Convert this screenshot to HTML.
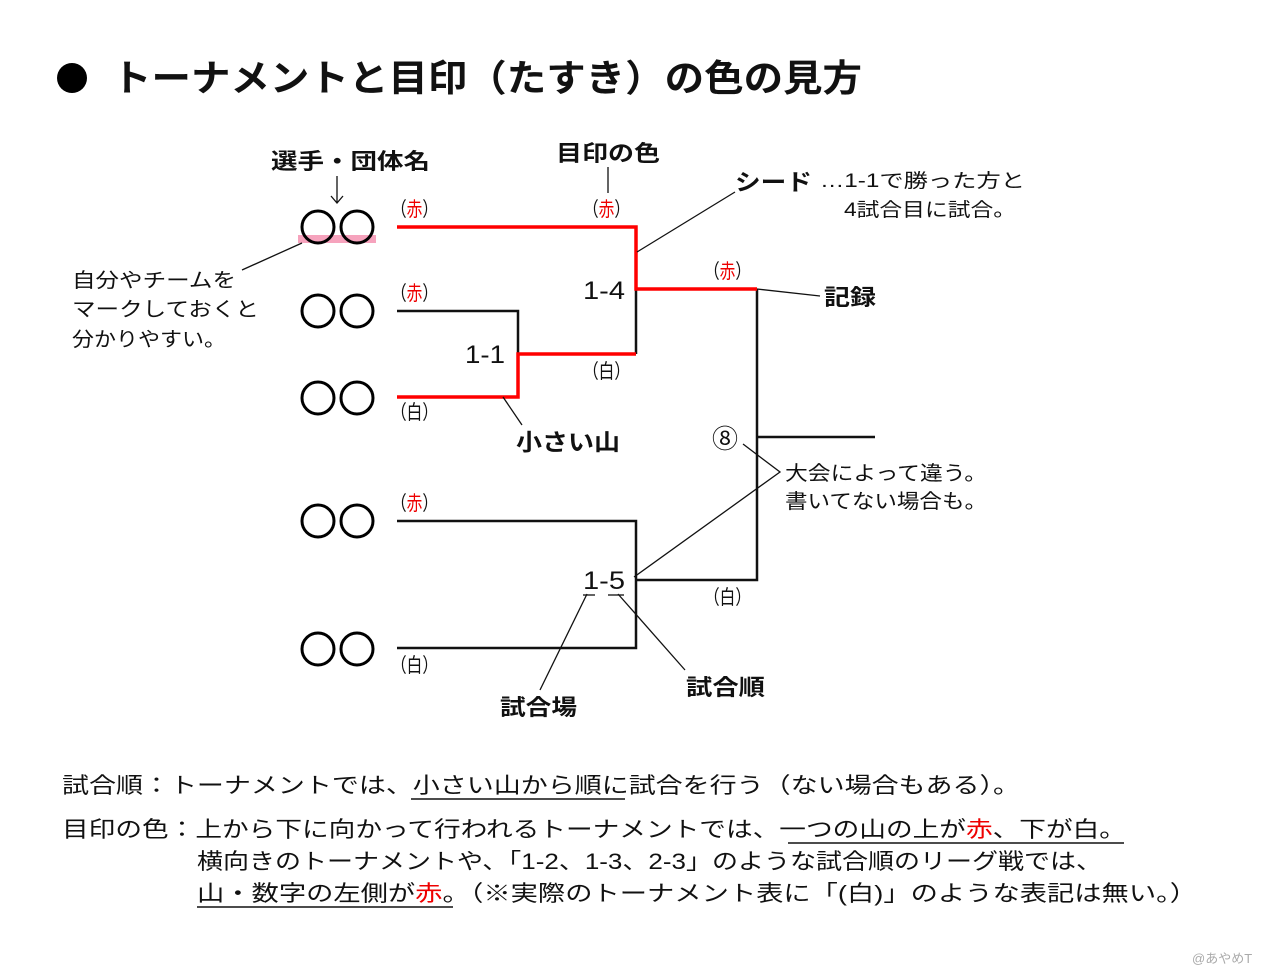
<!DOCTYPE html>
<html><head><meta charset="utf-8"><style>
html,body{margin:0;padding:0;background:#fff;}
svg{display:block;}
text{font-family:"Liberation Sans","Noto Sans CJK JP",sans-serif;fill:#111;}
.b{font-weight:bold;}
.r{fill:#e00;}
</style></head><body>
<svg width="1280" height="967" viewBox="0 0 1280 967">
<circle cx="72" cy="78" r="15" fill="#000"/>
<text x="112" y="91" font-size="37" class="b" textLength="750" lengthAdjust="spacingAndGlyphs">トーナメントと目印（たすき）の色の見方</text>

<rect x="298" y="235" width="78" height="8" fill="#f6a3bd"/>
<g fill="none" stroke="#000" stroke-width="3">
<circle cx="318" cy="227" r="16"/><circle cx="357" cy="227" r="16"/>
<circle cx="318" cy="311" r="16"/><circle cx="357" cy="311" r="16"/>
<circle cx="318" cy="398" r="16"/><circle cx="357" cy="398" r="16"/>
<circle cx="318" cy="521" r="16"/><circle cx="357" cy="521" r="16"/>
<circle cx="318" cy="649" r="16"/><circle cx="357" cy="649" r="16"/>
</g>

<g fill="none" stroke="#111" stroke-width="2.5">
<polyline points="397,311 518,311 518,354"/>
<polyline points="636,289 636,354"/>
<polyline points="757,289 757,580 636,580"/>
<line x1="757" y1="437" x2="875" y2="437"/>
<polyline points="397,521 636,521 636,648 397,648"/>
</g>
<g fill="none" stroke="#f00" stroke-width="3.5">
<polyline points="397,227 636,227 636,289 757,289"/>
<polyline points="397,397 518,397 518,354 636,354"/>
</g>

<g fill="none" stroke="#111" stroke-width="1.3">
<line x1="242" y1="270" x2="302" y2="243"/>
<line x1="337" y1="176" x2="337" y2="202"/>
<polyline points="331,196 337,203 343,196"/>
<line x1="608" y1="167" x2="608" y2="193"/>
<line x1="637" y1="252" x2="735" y2="192"/>
<line x1="757" y1="289" x2="820" y2="296"/>
<line x1="503" y1="397" x2="522" y2="425"/>
<polyline points="743,444 780,472 634,577"/>
<line x1="587" y1="594" x2="540" y2="690"/>
<line x1="618" y1="594" x2="685" y2="670"/>
<line x1="583" y1="595" x2="595" y2="595"/>
<line x1="608" y1="595" x2="624" y2="595"/>
</g>

<g class="b" font-size="22">
<text x="271" y="169" textLength="159" lengthAdjust="spacingAndGlyphs">選手・団体名</text>
<text x="556" y="161" textLength="104" lengthAdjust="spacingAndGlyphs">目印の色</text>
<text x="735" y="190" font-size="23" textLength="77" lengthAdjust="spacingAndGlyphs">シード</text>
<text x="824" y="305" textLength="52" lengthAdjust="spacingAndGlyphs">記録</text>
<text x="516" y="450" font-size="23" textLength="104" lengthAdjust="spacingAndGlyphs">小さい山</text>
<text x="500" y="715" textLength="77" lengthAdjust="spacingAndGlyphs">試合場</text>
<text x="686" y="695" textLength="79" lengthAdjust="spacingAndGlyphs">試合順</text>
</g>
<text x="820" y="187" font-size="19" textLength="205" lengthAdjust="spacingAndGlyphs">…1-1で勝った方と</text>
<text x="844" y="216" font-size="19" textLength="172" lengthAdjust="spacingAndGlyphs">4試合目に試合。</text>

<text x="72" y="287" font-size="20" textLength="164" lengthAdjust="spacingAndGlyphs">自分やチームを</text>
<text x="72" y="316" font-size="20" textLength="187" lengthAdjust="spacingAndGlyphs">マークしておくと</text>
<text x="72" y="346" font-size="20" textLength="154" lengthAdjust="spacingAndGlyphs">分かりやすい。</text>

<g font-size="20">
<text x="391" y="216" textLength="47" lengthAdjust="spacingAndGlyphs">（<tspan class="r">赤</tspan>）</text>
<text x="583" y="216" textLength="47" lengthAdjust="spacingAndGlyphs">（<tspan class="r">赤</tspan>）</text>
<text x="704" y="278" textLength="47" lengthAdjust="spacingAndGlyphs">（<tspan class="r">赤</tspan>）</text>
<text x="391" y="300" textLength="47" lengthAdjust="spacingAndGlyphs">（<tspan class="r">赤</tspan>）</text>
<text x="391" y="419" textLength="47" lengthAdjust="spacingAndGlyphs">（白）</text>
<text x="583" y="378" textLength="47" lengthAdjust="spacingAndGlyphs">（白）</text>
<text x="391" y="510" textLength="47" lengthAdjust="spacingAndGlyphs">（<tspan class="r">赤</tspan>）</text>
<text x="391" y="672" textLength="47" lengthAdjust="spacingAndGlyphs">（白）</text>
<text x="704" y="604" textLength="47" lengthAdjust="spacingAndGlyphs">（白）</text>
</g>
<text x="583" y="299" font-size="25" textLength="42" lengthAdjust="spacingAndGlyphs">1-4</text>
<text x="465" y="363" font-size="25" textLength="40" lengthAdjust="spacingAndGlyphs">1-1</text>
<text x="583" y="589" font-size="25" textLength="42" lengthAdjust="spacingAndGlyphs">1-5</text>
<text x="712" y="448" font-size="26">⑧</text>
<text x="785" y="480" font-size="20" textLength="202" lengthAdjust="spacingAndGlyphs">大会によって違う。</text>
<text x="785" y="508" font-size="20" textLength="202" lengthAdjust="spacingAndGlyphs">書いてない場合も。</text>

<g font-size="22">
<text x="62" y="793" textLength="958" lengthAdjust="spacingAndGlyphs">試合順：トーナメントでは、小さい山から順に試合を行う（ない場合もある）。</text>
<text x="62" y="837" textLength="1064" lengthAdjust="spacingAndGlyphs">目印の色：上から下に向かって行われるトーナメントでは、一つの山の上が<tspan class="r">赤</tspan>、下が白。</text>
<text x="197" y="869" textLength="905" lengthAdjust="spacingAndGlyphs">横向きのトーナメントや、「1-2、1-3、2-3」のような試合順のリーグ戦では、</text>
<text x="197" y="901" textLength="1000" lengthAdjust="spacingAndGlyphs">山・数字の左側が<tspan class="r">赤</tspan>。（※実際のトーナメント表に「(白)」のような表記は無い。）</text>
</g>
<g stroke="#111" stroke-width="1.5">
<line x1="411" y1="799" x2="625" y2="799"/>
<line x1="788" y1="843" x2="1124" y2="843"/>
<line x1="197" y1="907" x2="453" y2="907"/>
</g>
<text x="1192" y="963" font-size="13" style="fill:#aaa">@あやめT</text>
</svg>
</body></html>
